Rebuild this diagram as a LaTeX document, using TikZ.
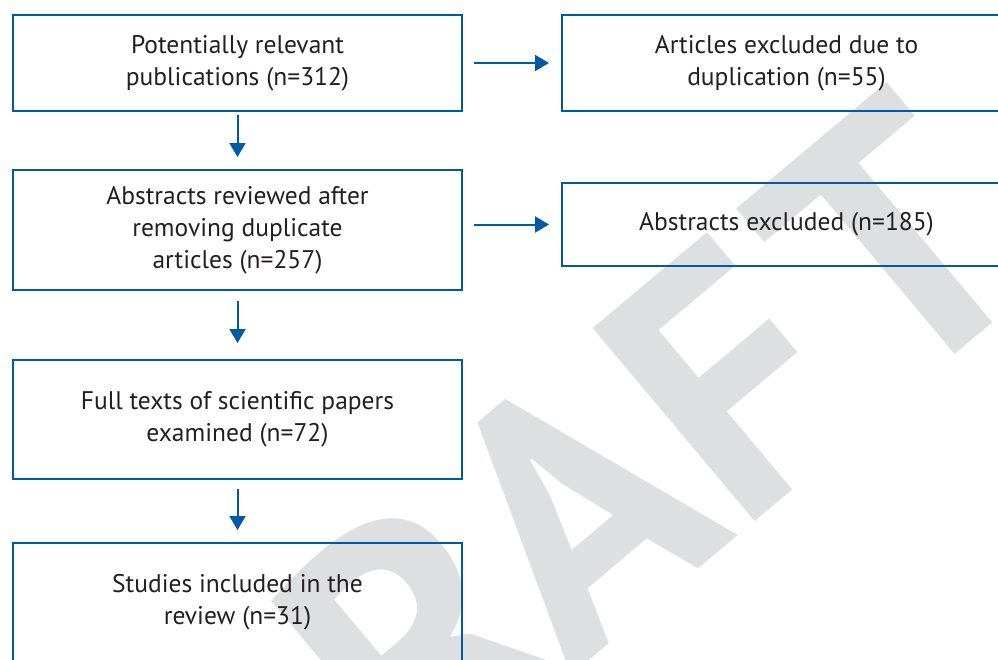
\documentclass[tikz,border=0pt]{standalone}
\usepackage{fontspec}
\setmainfont{PT Sans}
\usetikzlibrary{arrows.meta}
\definecolor{boxblue}{RGB}{0,90,168}
\definecolor{wmgray}{RGB}{222,223,225}
\definecolor{txtgray}{RGB}{35,31,32}

\begin{document}
\begin{tikzpicture}[x=1pt,y=-1pt,
    stage/.style={draw=boxblue,line width=2pt,minimum width=449pt,align=center,
        text=txtgray,font=\fontsize{25.5}{32}\selectfont},
    flow/.style={boxblue,line width=2pt,-{Triangle[width=16pt,length=14pt]},
        shorten <=10pt,shorten >=12pt}]
    \clip (0,0) rectangle (998,659);
    \node[rotate=40,inner sep=0pt,text=wmgray,font=\bfseries\fontsize{360}{360}\selectfont] (W) at (563.5,518) {DRAF\kern22pt T};

    \node[stage,minimum height=96pt] (P) at (237.5,63) {Potentially relevant\\publications (n=312)};
    \node[stage,minimum height=120pt] (A) at (237.5,230) {Abstracts reviewed after\\removing duplicate\\articles (n=257)};
    \node[stage,minimum height=119pt] (F) at (237.5,419.5) {Full texts of scientific papers\\examined (n=72)};
    \node[stage,minimum height=119pt] (S) at (237.5,602.5) {Studies included in the\\review (n=31)};
    \node[stage,minimum height=96pt] (X) at (786.5,63) {Articles excluded due to\\duplication (n=55)};
    \node[stage,minimum height=83pt] (E) at (786.5,224.5) {Abstracts excluded (n=185)};

    \draw[flow,shorten <=3pt] (P) -- (A);
    \draw[flow,shorten >=16pt] (A) -- (F);
    \draw[flow,shorten <=9pt] (F) -- (S);
    \draw[flow,shorten <=11pt] (P) -- (X);
    \draw[flow,shorten <=11pt] (A.east |- E) -- (E);
\end{tikzpicture}
\end{document}
